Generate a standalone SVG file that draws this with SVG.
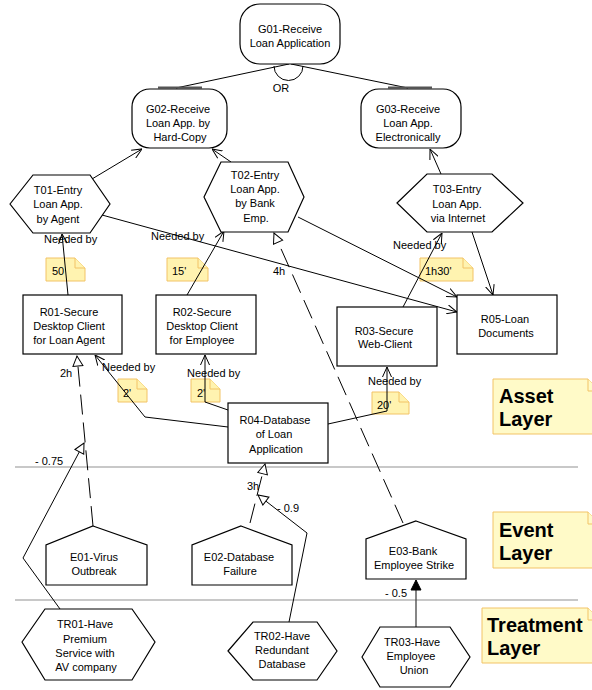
<svg xmlns="http://www.w3.org/2000/svg" width="592" height="690" viewBox="0 0 592 690">
<style>
text{font-family:"Liberation Sans",Arial,sans-serif;font-size:11px;fill:#000}
.c{text-anchor:middle}
.nd{fill:#fff;stroke:#000;stroke-width:1.2}
.ln{fill:none;stroke:#000;stroke-width:1}
.ds{fill:none;stroke:#000;stroke-width:1;stroke-dasharray:20,8}
.nt{fill:#FFF3B0;stroke:#F2C366;stroke-width:1}
.lay{fill:#FFFAC8;stroke:#F2C366;stroke-width:1}
.big{font-size:20px;font-weight:bold}
.sep{stroke:#C8C8C8;stroke-width:2}
</style>
<defs>
<marker id="open" viewBox="0 0 10 10" refX="10" refY="5" markerWidth="10" markerHeight="10" markerUnits="userSpaceOnUse" orient="auto"><path d="M0,0.5 L10,5 L0,9.5" fill="none" stroke="#000" stroke-width="1"/></marker>
<marker id="tri" viewBox="0 0 12 12" refX="11" refY="6" markerWidth="12" markerHeight="12" markerUnits="userSpaceOnUse" orient="auto"><path d="M1,1 L11,6 L1,11 Z" fill="#fff" stroke="#000" stroke-width="1"/></marker>
<marker id="fill" viewBox="0 0 12 12" refX="11" refY="6" markerWidth="12" markerHeight="12" markerUnits="userSpaceOnUse" orient="auto"><path d="M1,1 L11,6 L1,11 Z" fill="#000" stroke="#000" stroke-width="1"/></marker>
</defs>

<g id="layers">
<line class="sep" x1="15" y1="467" x2="578" y2="467"/>
<line class="sep" x1="15" y1="600" x2="578" y2="600"/>
</g>

<g id="note-asset">
<path class="lay" d="M493,379 H588 L600,391 V434 H493 Z"/>
<path class="lay" d="M588,379 V391 H600"/>
<text class="big" x="499" y="403">Asset</text>
<text class="big" x="499" y="426">Layer</text>
</g>
<g id="note-event">
<path class="lay" d="M493,512 H588 L600,524 V568 H493 Z"/>
<path class="lay" d="M588,512 V524 H600"/>
<text class="big" x="499" y="537">Event</text>
<text class="big" x="499" y="560">Layer</text>
</g>
<g id="note-treatment">
<path class="lay" d="M482,608 H588 L600,620 V663 H482 Z"/>
<path class="lay" d="M588,608 V620 H600"/>
<text class="big" x="487" y="632">Treatment</text>
<text class="big" x="487" y="655">Layer</text>
</g>

<g id="notes">
<path class="nt" d="M46,258 H75 L85,268 V281 H46 Z"/><path class="nt" d="M75,258 V268 H85"/>
<text x="52" y="275">50</text>
<path class="nt" d="M167,258 H198 L208,268 V281 H167 Z"/><path class="nt" d="M198,258 V268 H208"/>
<text x="172" y="275">15'</text>
<path class="nt" d="M420,258 H463 L473,268 V281 H420 Z"/><path class="nt" d="M463,258 V268 H473"/>
<text x="425" y="275">1h30'</text>
<path class="nt" d="M118,379 H137 L147,389 V402 H118 Z"/><path class="nt" d="M137,379 V389 H147"/>
<text x="123" y="397">2'</text>
<path class="nt" d="M191,379 H210 L220,389 V402 H191 Z"/><path class="nt" d="M210,379 V389 H220"/>
<text x="197" y="397">2'</text>
<path class="nt" d="M372,392 H399 L409,402 V414 H372 Z"/><path class="nt" d="M399,392 V402 H409"/>
<text x="377" y="409">20'</text>
</g>

<g id="connectors">
<line class="ln" x1="289" y1="64" x2="176" y2="88"/>
<line class="ln" x1="291" y1="64" x2="408" y2="88"/>
<path d="M274,66 A14.5,14.5 0 0 0 303,66" class="ln"/>
<line x1="158" y1="87.5" x2="202" y2="87.5" stroke="#555" stroke-width="2"/>
<line x1="388" y1="87.5" x2="432" y2="87.5" stroke="#555" stroke-width="2"/>
<line class="ln" x1="92" y1="179" x2="142" y2="149" marker-end="url(#open)"/>
<line class="ln" x1="231" y1="162" x2="212" y2="149" marker-end="url(#open)"/>
<line class="ln" x1="441" y1="174" x2="430" y2="149" marker-end="url(#open)"/>
<line class="ln" x1="102" y1="215" x2="457" y2="312" marker-end="url(#open)"/>
<line class="ln" x1="298" y1="217" x2="457" y2="297" marker-end="url(#open)"/>
<line class="ln" x1="472" y1="232" x2="493" y2="295" marker-end="url(#open)"/>
<line class="ln" x1="68" y1="295" x2="62" y2="234" marker-end="url(#open)"/>
<line class="ln" x1="187" y1="295" x2="224" y2="231" marker-end="url(#open)"/>
<line class="ln" x1="403" y1="307" x2="442" y2="233" marker-end="url(#open)"/>
<polyline class="ln" points="228,427 145,417 95,355" marker-end="url(#open)"/>
<polyline class="ln" points="228,410 205,402 205,355" marker-end="url(#open)"/>
<polyline class="ln" points="328,424 387,411 387,367" marker-end="url(#open)"/>
<line class="ds" x1="93" y1="526" x2="77" y2="356" marker-end="url(#tri)"/>
<line class="ds" x1="250" y1="523" x2="265" y2="464" marker-end="url(#tri)"/>
<line class="ds" x1="403" y1="523" x2="274" y2="233" marker-end="url(#tri)"/>
<polyline class="ln" points="60,609 23,558 84,443" marker-end="url(#tri)"/>
<polyline class="ln" points="289,622 307,533 258,495" marker-end="url(#tri)"/>
<line x1="416" y1="627" x2="416" y2="580" stroke="#444" stroke-width="1.3" marker-end="url(#fill)"/>
<text x="281" y="92" class="c">OR</text>
<text x="44" y="243">Needed by</text>
<text x="151" y="240">Needed by</text>
<text x="393" y="249">Needed by</text>
<text x="102" y="371">Needed by</text>
<text x="187" y="377">Needed by</text>
<text x="368" y="385">Needed by</text>
<text x="60" y="377">2h</text>
<text x="273" y="275">4h</text>
<text x="247" y="490">3h</text>
<text x="35" y="465">- 0.75</text>
<text x="277" y="512">- 0.9</text>
<text x="385" y="597">- 0.5</text>
</g>

<g id="G01">
<rect class="nd" x="240" y="4" width="100" height="60" rx="20"/>
<text class="c" x="290" y="33">G01-Receive</text>
<text class="c" x="290" y="47">Loan Application</text>
</g>
<g id="G02">
<rect class="nd" x="132" y="89" width="95" height="59" rx="18"/>
<text class="c" x="178" y="113">G02-Receive</text>
<text class="c" x="178" y="127">Loan App. by</text>
<text class="c" x="180" y="141">Hard-Copy</text>
</g>
<g id="G03">
<rect class="nd" x="361" y="89" width="100" height="59" rx="18"/>
<text class="c" x="408" y="113">G03-Receive</text>
<text class="c" x="408" y="127">Loan App.</text>
<text class="c" x="408" y="141">Electronically</text>
</g>
<g id="T01">
<polygon class="nd" points="10,204 33,175 90,175 110,204 90,233 33,233"/>
<text class="c" x="58" y="194">T01-Entry</text>
<text class="c" x="58" y="208">Loan App.</text>
<text class="c" x="58" y="223">by Agent</text>
</g>
<g id="T02">
<polygon class="nd" points="204,197 221,162 288,162 304,197 288,232 221,232"/>
<text class="c" x="255" y="179">T02-Entry</text>
<text class="c" x="255" y="193">Loan App.</text>
<text class="c" x="255" y="207">by Bank</text>
<text class="c" x="256" y="222">Emp.</text>
</g>
<g id="T03">
<polygon class="nd" points="397,203 427,174 492,174 523,203 492,232 427,232"/>
<text class="c" x="457" y="193">T03-Entry</text>
<text class="c" x="457" y="208">Loan App.</text>
<text class="c" x="458" y="222">via Internet</text>
</g>
<g id="R01">
<rect class="nd" x="23" y="295" width="99" height="59"/>
<text class="c" x="69" y="316">R01-Secure</text>
<text class="c" x="69" y="330">Desktop Client</text>
<text class="c" x="69" y="344">for Loan Agent</text>
</g>
<g id="R02">
<rect class="nd" x="156" y="295" width="100" height="59"/>
<text class="c" x="202" y="316">R02-Secure</text>
<text class="c" x="202" y="330">Desktop Client</text>
<text class="c" x="202" y="344">for Employee</text>
</g>
<g id="R03">
<rect class="nd" x="337" y="307" width="100" height="59"/>
<text class="c" x="384" y="335">R03-Secure</text>
<text class="c" x="385" y="348">Web-Client</text>
</g>
<g id="R05">
<rect class="nd" x="457" y="295" width="100" height="59"/>
<text class="c" x="505" y="323">R05-Loan</text>
<text class="c" x="506" y="337">Documents</text>
</g>
<g id="R04">
<rect class="nd" x="228" y="403" width="100" height="60"/>
<text class="c" x="275" y="424">R04-Database</text>
<text class="c" x="274" y="438">of Loan</text>
<text class="c" x="276" y="453">Application</text>
</g>
<g id="E01">
<polygon class="nd" points="93,526 147,545 147,585 46,585 46,545"/>
<text class="c" x="94" y="561">E01-Virus</text>
<text class="c" x="94" y="575">Outbreak</text>
</g>
<g id="E02">
<polygon class="nd" points="241,526 292,545 292,585 192,585 192,545"/>
<text class="c" x="239" y="561">E02-Database</text>
<text class="c" x="240" y="575">Failure</text>
</g>
<g id="E03">
<polygon class="nd" points="416,521 466,539 466,579 366,579 366,539"/>
<text class="c" x="413" y="555">E03-Bank</text>
<text class="c" x="414" y="569">Employee Strike</text>
</g>
<g id="TR01">
<polygon class="nd" points="22,642 45,609 132,609 155,642 132,680 45,680"/>
<text class="c" x="85" y="628">TR01-Have</text>
<text class="c" x="85" y="643">Premium</text>
<text class="c" x="85" y="657">Service with</text>
<text class="c" x="86" y="671">AV company</text>
</g>
<g id="TR02">
<polygon class="nd" points="228,651 253,622 317,622 337,651 317,680 253,680"/>
<text class="c" x="282" y="640">TR02-Have</text>
<text class="c" x="282" y="654">Redundant</text>
<text class="c" x="282" y="668">Database</text>
</g>
<g id="TR03">
<polygon class="nd" points="362,657 380,627 450,627 470,657 450,687 380,687"/>
<text class="c" x="412" y="646">TR03-Have</text>
<text class="c" x="411" y="660">Employee</text>
<text class="c" x="414" y="674">Union</text>
</g>
</svg>
